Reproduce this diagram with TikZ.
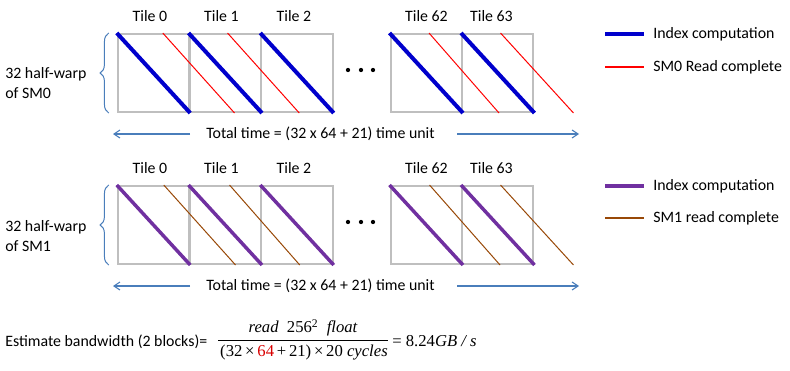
\documentclass[tikz,border=0pt]{standalone}
\usepackage{fontspec}
\setmainfont{Carlito}
\newfontfamily\eqfont{Liberation Serif}
\usepackage{tikz}
\usetikzlibrary{arrows.meta,positioning,calc,decorations.pathreplacing}

\definecolor{idxblue}{RGB}{0,0,204}
\definecolor{rdred}{RGB}{255,0,0}
\definecolor{idxpurple}{RGB}{112,48,160}
\definecolor{rdbrown}{RGB}{152,72,7}
\definecolor{tilegray}{RGB}{191,191,191}
\definecolor{bracecol}{RGB}{74,126,187}

\tikzset{
  tile/.style={draw=tilegray, line width=1.5pt, minimum width=53.6pt, minimum height=58.5pt, inner sep=0pt},
  txt/.style={inner sep=0pt, font=\fontsize{11.9}{15}\selectfont},
  eq/.style={inner sep=0pt, font=\eqfont\fontsize{12.5}{15}\selectfont},
  idxline/.style={line width=3pt},
  rdline/.style={line width=0.75pt},
  legline/.style={line width=1.3pt},
  wbrace/.style={draw=bracecol, line width=0.75pt, decorate, decoration={brace, amplitude=6.5pt}},
  tarrow/.style={draw=bracecol, line width=0.8pt, -{Straight Barb[length=4.5pt, width=6pt]}}
}

\begin{document}
\begin{tikzpicture}[x=0.75pt, y=-0.75pt]
\useasboundingbox (0,0) rectangle (790,371);
% ----- SM0 -----
\begin{scope}
\node[tile] (a0) at (153.5,73) {};
\node[tile] (a1) at (225.25,73) {};
\node[tile] (a2) at (297,73) {};
\node[tile] (a62) at (426.25,73) {};
\node[tile] (a63) at (497.75,73) {};
\node[txt] (ta0) at (150,16) {Tile 0};
\node[txt] (ta1) at (221.5,16) {Tile 1};
\node[txt] (ta2) at (294,16) {Tile 2};
\node[txt] (ta62) at (426.5,16) {Tile 62};
\node[txt] (ta63) at (491.5,16) {Tile 63};
\draw[rdline, rdred] ($(a0.north west)+(46,0)$) -- ($(a1.south west)+(46,0)$);
\draw[rdline, rdred] ($(a1.north west)+(39,0)$) -- ($(a2.south west)+(39,0)$);
\draw[rdline, rdred] ($(a62.north west)+(39.5,0)$) -- ($(a63.south west)+(38,0)$);
\draw[rdline, rdred] ($(a63.north west)+(39.5,0)$) -- ($(a63.south east)+(39,0)$);
\draw[idxline, idxblue] (a0.north west) -- (a0.south east);
\draw[idxline, idxblue] (a1.north west) -- (a1.south east);
\draw[idxline, idxblue] (a2.north west) -- (a2.south east);
\draw[idxline, idxblue] (a62.north west) -- (a62.south east);
\draw[idxline, idxblue] (a63.north west) -- (a63.south east);
\fill (348,70) circle (1.6pt) (361,70) circle (1.6pt) (373,70) circle (1.6pt);
\draw[wbrace] ($(a0.south west)+(-8,0)$) -- ($(a0.north west)+(-8,0)$);
\node[txt, align=left, anchor=west] (sa) at (5,83) {32 half-warp\\of SM0};
\node[txt] (tta) at (320.5,134) {Total time = (32 x 64 + 21) time unit};
\coordinate (la1) at (190,134);
\coordinate (la2) at (113,134);
\coordinate (ra1) at (457,134);
\coordinate (ra2) at (579,134);
\draw[tarrow] (la1) -- (la2);
\draw[tarrow] (ra1) -- (ra2);
\node[txt, anchor=west] (ka1) at (653,34) {Index computation};
\node[txt, anchor=west] (ka2) at (653,67) {SM0 Read complete};
\draw[legline, line width=3pt, idxblue] ($(ka1.west)+(-48,0)$) -- ($(ka1.west)+(-9,0)$);
\draw[legline, rdred] ($(ka2.west)+(-48,0)$) -- ($(ka2.west)+(-9,0)$);
\end{scope}
% ----- SM1 -----
\begin{scope}[shift={(0,152)}]
\node[tile] (b0) at (153.5,73) {};
\node[tile] (b1) at (225.25,73) {};
\node[tile] (b2) at (297,73) {};
\node[tile] (b62) at (426.25,73) {};
\node[tile] (b63) at (497.75,73) {};
\node[txt] (tb0) at (150,16) {Tile 0};
\node[txt] (tb1) at (221.5,16) {Tile 1};
\node[txt] (tb2) at (294,16) {Tile 2};
\node[txt] (tb62) at (426.5,16) {Tile 62};
\node[txt] (tb63) at (491.5,16) {Tile 63};
\draw[rdline, rdbrown] ($(b0.north west)+(47,0)$) -- ($(b1.south west)+(47,0)$);
\draw[rdline, rdbrown] ($(b1.north west)+(41,0)$) -- ($(b2.south west)+(39.5,0)$);
\draw[rdline, rdbrown] ($(b62.north west)+(40,0)$) -- ($(b63.south west)+(39,0)$);
\draw[rdline, rdbrown] ($(b63.north west)+(39.5,0)$) -- ($(b63.south east)+(39,0)$);
\draw[idxline, idxpurple, line width=2.6pt] (b0.north west) -- (b0.south east);
\draw[idxline, idxpurple, line width=2.6pt] (b1.north west) -- (b1.south east);
\draw[idxline, idxpurple, line width=2.6pt] (b2.north west) -- (b2.south east);
\draw[idxline, idxpurple, line width=2.6pt] (b62.north west) -- (b62.south east);
\draw[idxline, idxpurple, line width=2.6pt] (b63.north west) -- (b63.south east);
\fill (348,70) circle (1.6pt) (361,70) circle (1.6pt) (373,70) circle (1.6pt);
\draw[wbrace] ($(b0.south west)+(-8,0)$) -- ($(b0.north west)+(-8,0)$);
\node[txt, align=left, anchor=west] (sb) at (5,84) {32 half-warp\\of SM1};
\node[txt] (ttb) at (320.5,134) {Total time = (32 x 64 + 21) time unit};
\coordinate (lb1) at (190,134);
\coordinate (lb2) at (113,134);
\coordinate (rb1) at (457,134);
\coordinate (rb2) at (579,134);
\draw[tarrow] (lb1) -- (lb2);
\draw[tarrow] (rb1) -- (rb2);
\node[txt, anchor=west] (kb1) at (653,34) {Index computation};
\node[txt, anchor=west] (kb2) at (653,66) {SM1 read complete};
\draw[legline, line width=2.6pt, idxpurple] ($(kb1.west)+(-48,0)$) -- ($(kb1.west)+(-9,0)$);
\draw[legline, rdbrown] ($(kb2.west)+(-48,0)$) -- ($(kb2.west)+(-9,0)$);
\end{scope}
% ----- bandwidth estimate -----
\node[txt, anchor=west] (est) at (5,341.5) {Estimate bandwidth (2 blocks)=};
\node[eq] (num) at (303,328) {\itshape read\enspace{\upshape 256\textsuperscript{2}}\enspace float};
\node[eq] (den) at (304,353) {(32\,×\,{\color{rdred!85!black}64}\,+\,21)\,×\,20 \textit{cycles}};
\coordinate (fl) at (218,340.5);
\coordinate (fr) at (388,340.5);
\draw[line width=0.6pt] (fl) -- (fr);
\node[eq, anchor=west] (res) at (392,341) {= 8.24\textit{GB / s}};
\end{tikzpicture}
\end{document}
